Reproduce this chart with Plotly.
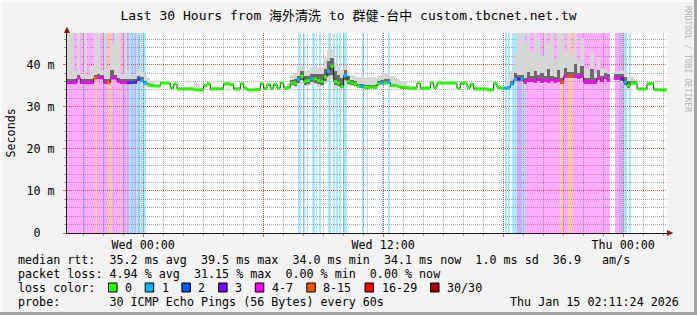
import plotly.graph_objects as go
import pandas as pd

# ---------------- data ----------------
start = pd.Timestamp("2026-01-13 20:11:24")
end = pd.Timestamp("2026-01-15 02:11:24")
step_min = 10
y_top = 47.5

median_ms = [
    35.7, 35.7, 35.7, 36.8, 35.8, 35.7,
    35.7, 35.7, 36.8, 36.9, 36.8, 35.7,
    35.7, 36.8, 36.8, 36.0, 35.7, 35.7,
    35.7, 35.7, 35.8, 36.5, 36.2, 35.6,
    35.2, 35.0, 34.9, 34.9, 35.6, 35.6,
    35.6, 34.6, 35.4, 34.2, 34.2, 34.2,
    34.2, 34.2, 34.0, 34.0, 34.0, 35.0,
    35.4, 34.2, 34.2, 34.2, 34.3, 35.4,
    35.4, 35.2, 34.2, 34.2, 35.4, 34.4,
    34.0, 34.0, 34.0, 34.1, 35.4, 34.3,
    35.3, 34.4, 35.3, 34.4, 35.6, 34.4,
    34.6, 35.6, 35.6, 36.4, 37.2, 36.0,
    36.2, 36.6, 36.6, 36.2, 36.0, 37.0,
    38.4, 39.6, 36.0, 35.6, 34.8, 37.4,
    36.0, 35.6, 35.4, 34.8, 34.8, 34.6,
    34.6, 34.7, 34.6, 35.4, 35.6, 35.6,
    35.8, 35.0, 35.0, 34.8, 34.6, 34.6,
    34.4, 34.4, 34.4, 35.6, 34.4, 34.4,
    34.4, 35.6, 34.6, 35.6, 35.6, 35.6,
    35.6, 35.6, 35.6, 34.3, 35.5, 35.6,
    34.6, 35.3, 34.2, 34.2, 34.2, 34.2,
    34.0, 34.0, 35.5, 34.6, 34.4, 34.4,
    34.5, 35.4, 36.4, 36.6, 36.6, 35.9,
    36.2, 36.3, 36.0, 36.5, 36.1, 36.2,
    36.0, 36.4, 36.0, 36.2, 35.9, 37.2,
    37.2, 37.3, 37.2, 37.0, 37.2, 35.9,
    35.9, 35.9, 35.9, 36.8, 36.2, 36.9,
    36.3, None, 36.8, 36.8, 36.7, 35.8,
    35.0, 35.6, 35.6, 34.2, 34.2, 34.2,
    35.4, 35.5, 34.1, 34.0, 34.0, 34.0,
]

# outer (light) smoke extent above / below the median, ms
smoke_up = [
    14, 14, 3, 12, 2, 14,
    1.5, 4, 14, 12, 2, 14,
    3, 8, 14, 14, 2, 14,
    3, 1.5, 2, 2.5, 2, 2,
    1.5, 1.0, 0.4, 0.4, 0.4, 0.4,
    0.4, 0.4, 0.4, 0.4, 0.4, 0.4,
    0.4, 0.4, 1.8, 1.5, 0.4, 0.4,
    0.4, 0.4, 0.4, 0.4, 0.4, 0.4,
    0.4, 0.4, 0.4, 0.4, 0.4, 0.4,
    0.4, 0.4, 0.4, 0.4, 0.8, 0.4,
    0.4, 0.4, 0.4, 0.4, 0.6, 0.6,
    1.0, 2.0, 2.5, 2.5, 2.5, 2.5,
    2.5, 2.5, 2.8, 3.0, 3.5, 4.5,
    5.0, 4.0, 4.5, 4.0, 4.0, 2.5,
    2.5, 2.0, 2.0, 2.2, 2.2, 2.3,
    2.4, 2.3, 2.2, 2.0, 2.0, 2.4,
    2.2, 2.2, 2.0, 1.8, 1.6, 1.2,
    0.8, 0.4, 0.4, 0.4, 0.4, 0.4,
    0.4, 0.4, 0.4, 0.4, 0.4, 0.4,
    0.4, 0.4, 0.4, 0.4, 0.4, 0.4,
    0.4, 0.4, 0.4, 0.4, 0.4, 0.4,
    0.4, 0.4, 0.4, 0.4, 0.4, 0.4,
    1.5, 3, 6, 12, 14, 9,
    14, 7, 14, 10, 6, 14,
    9, 14, 5, 12, 14, 6,
    14, 5, 12, 4, 9, 3,
    3, 7, 2, 5, 3, 2,
    2, None, 1.5, 1.5, 2, 2.5,
    2, 1.5, 1.0, 0.4, 0.4, 0.4,
    0.4, 0.4, 0.4, 0.4, 0.4, 0.4,
]
smoke_dn = [
    0.6, 0.6, 0.6, 0.6, 0.6, 0.6,
    0.6, 0.6, 0.6, 0.6, 0.6, 0.6,
    0.6, 0.6, 0.6, 0.6, 0.6, 0.6,
    0.6, 0.6, 0.6, 0.6, 0.6, 0.6,
    0.5, 0.4, 0.3, 0.3, 0.3, 0.3,
    0.3, 0.3, 0.3, 0.3, 0.3, 0.3,
    0.3, 0.3, 0.3, 0.3, 0.3, 0.3,
    0.3, 0.3, 0.3, 0.3, 0.3, 0.3,
    0.3, 0.3, 0.3, 0.3, 0.3, 0.3,
    0.3, 0.3, 0.3, 0.3, 0.3, 0.3,
    0.3, 0.3, 0.3, 0.3, 0.3, 0.3,
    0.5, 0.8, 1.0, 1.5, 1.8, 1.2,
    1.3, 1.5, 1.5, 1.5, 1.2, 1.5,
    2.0, 3.0, 1.5, 1.0, 0.6, 1.5,
    1.0, 0.8, 0.6, 0.4, 0.4, 0.4,
    0.4, 0.4, 0.4, 0.4, 0.4, 0.4,
    0.4, 0.4, 0.4, 0.4, 0.3, 0.3,
    0.3, 0.3, 0.3, 0.3, 0.3, 0.3,
    0.3, 0.3, 0.3, 0.3, 0.3, 0.3,
    0.3, 0.3, 0.3, 0.3, 0.3, 0.3,
    0.3, 0.3, 0.3, 0.3, 0.3, 0.3,
    0.3, 0.3, 0.3, 0.3, 0.3, 0.3,
    0.3, 0.6, 0.8, 0.6, 0.6, 0.6,
    0.6, 0.6, 0.6, 0.6, 0.6, 0.6,
    0.6, 0.6, 0.6, 0.6, 0.6, 0.6,
    0.6, 0.6, 0.6, 0.6, 0.6, 0.6,
    0.6, 0.6, 0.6, 0.6, 0.6, 0.6,
    0.6, None, 0.6, 0.6, 0.8, 1.0,
    1.0, 0.5, 0.4, 0.3, 0.3, 0.3,
    0.3, 0.3, 0.3, 0.3, 0.3, 0.3,
]
# dark core of the smoke above / below the median, ms
core_up = [
    0.8, 0.8, 0.8, 0.8, 0.8, 0.8,
    0.8, 0.8, 0.8, 0.8, 0.8, 0.8,
    0.8, 2.0, 0.8, 0.8, 0.8, 0.8,
    0.8, 0.8, 0.8, 0.8, 0.8, 0.6,
    0.4, 0.3, 0.2, 0.2, 0.2, 0.2,
    0.2, 0.2, 0.2, 0.2, 0.2, 0.2,
    0.2, 0.2, 0.2, 0.2, 0.2, 0.2,
    0.2, 0.2, 0.2, 0.2, 0.2, 0.2,
    0.2, 0.2, 0.2, 0.2, 0.2, 0.2,
    0.2, 0.2, 0.2, 0.2, 0.2, 0.2,
    0.2, 0.2, 0.2, 0.2, 0.2, 0.2,
    0.4, 0.8, 1.0, 1.0, 1.2, 1.2,
    1.0, 1.2, 1.2, 1.5, 1.8, 2.0,
    2.5, 2.0, 2.5, 2.0, 2.0, 1.2,
    1.2, 0.8, 0.6, 0.5, 0.5, 0.5,
    0.6, 0.5, 0.5, 0.6, 0.8, 1.0,
    0.8, 0.5, 0.5, 0.4, 0.3, 0.3,
    0.2, 0.2, 0.2, 0.2, 0.2, 0.2,
    0.2, 0.2, 0.2, 0.2, 0.2, 0.2,
    0.2, 0.2, 0.2, 0.2, 0.2, 0.2,
    0.2, 0.2, 0.2, 0.2, 0.2, 0.2,
    0.2, 0.2, 0.2, 0.2, 0.2, 0.2,
    0.4, 0.8, 1.5, 1.0, 1.0, 1.0,
    2.0, 1.0, 2.5, 1.0, 2.0, 1.0,
    3.0, 1.0, 1.0, 2.5, 1.0, 2.0,
    1.0, 1.0, 3.0, 1.0, 2.5, 1.0,
    1.0, 3.0, 1.0, 2.0, 1.0, 1.0,
    1.5, None, 1.0, 1.0, 1.0, 1.2,
    1.0, 0.6, 0.4, 0.2, 0.2, 0.2,
    0.2, 0.2, 0.2, 0.2, 0.2, 0.2,
]
core_dn = [
    0.3, 0.3, 0.3, 0.3, 0.3, 0.3,
    0.3, 0.3, 0.3, 0.3, 0.3, 0.3,
    0.3, 0.3, 0.3, 0.3, 0.3, 0.3,
    0.3, 0.3, 0.3, 0.3, 0.3, 0.3,
    0.2, 0.2, 0.2, 0.2, 0.2, 0.2,
    0.2, 0.2, 0.2, 0.2, 0.2, 0.2,
    0.2, 0.2, 0.2, 0.2, 0.2, 0.2,
    0.2, 0.2, 0.2, 0.2, 0.2, 0.2,
    0.2, 0.2, 0.2, 0.2, 0.2, 0.2,
    0.2, 0.2, 0.2, 0.2, 0.2, 0.2,
    0.2, 0.2, 0.2, 0.2, 0.2, 0.2,
    0.3, 0.5, 0.6, 0.8, 0.8, 0.8,
    0.8, 0.8, 0.9, 0.8, 0.8, 1.0,
    1.2, 2.0, 0.8, 0.6, 0.4, 1.0,
    0.6, 0.5, 0.4, 0.3, 0.3, 0.3,
    0.3, 0.3, 0.3, 0.3, 0.3, 0.3,
    0.3, 0.3, 0.3, 0.3, 0.3, 0.3,
    0.2, 0.2, 0.2, 0.2, 0.2, 0.2,
    0.2, 0.2, 0.2, 0.2, 0.2, 0.2,
    0.2, 0.2, 0.2, 0.2, 0.2, 0.2,
    0.2, 0.2, 0.2, 0.2, 0.2, 0.2,
    0.2, 0.2, 0.2, 0.2, 0.2, 0.2,
    0.2, 0.3, 0.4, 0.4, 0.4, 0.4,
    0.4, 0.4, 0.4, 0.4, 0.4, 0.4,
    0.4, 0.4, 0.4, 0.4, 0.4, 0.4,
    0.4, 0.4, 0.4, 0.4, 0.4, 0.4,
    0.4, 0.4, 0.4, 0.4, 0.4, 0.4,
    0.4, None, 0.4, 0.4, 0.5, 0.6,
    0.6, 0.3, 0.2, 0.2, 0.2, 0.2,
    0.2, 0.2, 0.2, 0.2, 0.2, 0.2,
]

# packet-loss periods: minutes from start, and loss-colour index
band_start_min = [0, 48, 54, 84, 90, 108, 114, 123, 135, 138, 141, 159, 162, 168, 174,
                  180, 186, 192, 198, 201, 207, 213, 219,
                  693, 708, 720, 735, 747, 756, 783, 798, 807, 816, 828, 885, 900, 945, 963,
                  1314, 1323, 1335, 1350, 1365, 1374, 1479, 1488, 1503, 1518,
                  1644, 1656, 1668, 1686]
band_end_min = [48, 54, 84, 90, 108, 114, 123, 135, 138, 141, 159, 162, 168, 174, 180,
                186, 192, 198, 201, 207, 213, 219, 237,
                702, 714, 723, 744, 750, 762, 792, 804, 813, 822, 840, 891, 903, 948, 969,
                1320, 1329, 1350, 1365, 1374, 1479, 1488, 1503, 1518, 1629,
                1656, 1668, 1680, 1692]
band_loss = [4, 3, 4, 5, 4, 3, 4, 5, 4, 3, 4, 5, 4, 3, 4,
             3, 1, 2, 1, 3, 1, 2, 1,
             1, 1, 1, 1, 1, 1, 1, 1, 1, 1, 1, 1, 1, 1, 1,
             1, 1, 1, 3, 1, 4, 5, 4, 5, 4,
             4, 3, 1, 1]

loss_labels = ["0", "1", "2", "3", "4-7", "8-15", "16-29", "30/30"]
loss_colors = ["#26ff00", "#00b8ff", "#0059ff", "#7e00ff", "#ff00ff", "#ff5500", "#ff0000", "#a10000"]

x_tick_vals = ["2026-01-14 00:00", "2026-01-14 06:00", "2026-01-14 12:00",
               "2026-01-14 18:00", "2026-01-15 00:00"]
x_tick_text = ["Wed 00:00", "", "Wed 12:00", "", "Thu 00:00"]
y_tick_vals = [0, 10, 20, 30, 40]
y_tick_text = ["0\u00a0\u00a0", "10 m", "20 m", "30 m", "40 m"]

title_text = "Last 30 Hours from 海外清洗 to 群健-台中 custom.tbcnet.net.tw"
legend_rows = [
    "median rtt:  35.2 ms avg  39.5 ms max  34.0 ms min  34.1 ms now  1.0 ms sd  36.9   am/s",
    "packet loss: 4.94 % avg  31.15 % max  0.00 % min  0.00 % now",
    "loss color:",
    "probe:       30 ICMP Echo Pings (56 Bytes) every 60s",
]
stamp_text = "Thu Jan 15 02:11:24 2026"

# ---------------- helpers ----------------
W, H = 697, 315
L, R, T, B = 67, 667, 33, 233
MONO = "DejaVu Sans Mono, Noto Sans CJK TC"


def px(x):
    return (x - L) / (R - L)


def py(y):
    return (B - y) / (B - T)


def rgba(hexc, a):
    h = hexc.lstrip("#")
    return "rgba(%d,%d,%d,%.3f)" % (int(h[0:2], 16), int(h[2:4], 16), int(h[4:6], 16), a)


def nb(s):
    return s.replace(" ", "\u00a0")


N = len(median_ms)
t_edges = [start + pd.Timedelta(minutes=step_min * i) for i in range(N + 1)]
t_mid = [start + pd.Timedelta(minutes=step_min * i + step_min / 2) for i in range(N)]
bar_w = step_min * 60 * 1000


def loss_at(minute):
    for s, e, c in zip(band_start_min, band_end_min, band_loss):
        if s <= minute < e:
            return c
    return 0


fig = go.Figure()

# smoke
ox, ob, oh = [], [], []
cx, cb, ch = [], [], []
for i in range(N):
    m = median_ms[i]
    if m is None:
        continue
    ox.append(t_mid[i]); ob.append(m - smoke_dn[i]); oh.append(smoke_up[i] + smoke_dn[i])
    cx.append(t_mid[i]); cb.append(m - core_dn[i]); ch.append(core_up[i] + core_dn[i])

fig.add_trace(go.Bar(x=ox, y=oh, base=ob, width=bar_w, marker=dict(color="#d6d6d6", line=dict(width=0)),
                     showlegend=False, hoverinfo="skip"))
fig.add_trace(go.Bar(x=cx, y=ch, base=cb, width=bar_w, marker=dict(color="#6a6a6a", line=dict(width=0)),
                     showlegend=False, hoverinfo="skip"))

# thin dark median connector (step)
fig.add_trace(go.Scatter(x=t_edges, y=median_ms + [median_ms[-1]], mode="lines",
                         line=dict(color="#202020", width=1, shape="hv"),
                         connectgaps=False, showlegend=False, hoverinfo="skip"))

# thick coloured median segments, coloured by loss
for c, col in enumerate(loss_colors):
    xs, ys = [], []
    for i in range(N):
        m = median_ms[i]
        if m is None:
            continue
        if loss_at(step_min * i + step_min / 2) != c:
            continue
        xs += [t_edges[i], t_edges[i + 1], None]
        ys += [m, m, None]
    if xs:
        fig.add_trace(go.Scatter(x=xs, y=ys, mode="lines", line=dict(color=col, width=3),
                                 showlegend=False, hoverinfo="skip"))

shapes = []
# loss background bands
for s, e, c in zip(band_start_min, band_end_min, band_loss):
    shapes.append(dict(type="rect", xref="x", yref="y", layer="below",
                       x0=start + pd.Timedelta(minutes=s), x1=start + pd.Timedelta(minutes=e),
                       y0=0, y1=y_top, fillcolor=rgba(loss_colors[c], 0.33), line=dict(width=0)))

# frame (3D look)
shapes += [
    dict(type="rect", xref="paper", yref="paper", x0=px(0), x1=px(W), y0=py(0), y1=py(2),
         fillcolor="#fcfcfc", line=dict(width=0), layer="above"),
    dict(type="rect", xref="paper", yref="paper", x0=px(0), x1=px(2), y0=py(0), y1=py(H),
         fillcolor="#fcfcfc", line=dict(width=0), layer="above"),
    dict(type="rect", xref="paper", yref="paper", x0=px(694), x1=px(W), y0=py(0), y1=py(H),
         fillcolor="#a4a4a4", line=dict(width=0), layer="above"),
    dict(type="rect", xref="paper", yref="paper", x0=px(0), x1=px(W), y0=py(312), y1=py(H),
         fillcolor="#a4a4a4", line=dict(width=0), layer="above"),
]
# axis arrows
shapes.append(dict(type="path", xref="paper", yref="paper",
                   path="M %f %f L %f %f L %f %f Z" % (px(64), py(33), px(70), py(33), px(67), py(26.5)),
                   fillcolor="#8b1a1a", line=dict(width=0), layer="above"))
shapes.append(dict(type="path", xref="paper", yref="paper",
                   path="M %f %f L %f %f L %f %f Z" % (px(667), py(230), px(667), py(236), px(673.5), py(233)),
                   fillcolor="#8b1a1a", line=dict(width=0), layer="above"))

annotations = []
FS = 11.7
row_y = [259.5, 273.5, 287.5, 301.5]
for txt, yy in zip(legend_rows, row_y):
    annotations.append(dict(xref="paper", yref="paper", x=px(16), y=py(yy), xanchor="left", yanchor="middle",
                            text=nb(txt), showarrow=False, font=dict(family=MONO, size=FS, color="#000")))
annotations.append(dict(xref="paper", yref="paper", x=px(681), y=py(row_y[3]), xanchor="right",
                        yanchor="middle", text=nb(stamp_text), showarrow=False,
                        font=dict(family=MONO, size=FS, color="#000")))

# loss colour legend swatches
box_x = [108.5, 145.2, 181.9, 218.6, 255.3, 306.8, 365.0, 430.5]
for bx, lab, col in zip(box_x, loss_labels, loss_colors):
    shapes.append(dict(type="rect", xref="paper", yref="paper", x0=px(bx), x1=px(bx + 8.5),
                       y0=py(row_y[2] - 4.5), y1=py(row_y[2] + 4.5), fillcolor=col,
                       line=dict(color="#000", width=1), layer="above"))
    annotations.append(dict(xref="paper", yref="paper", x=px(bx + 14.5), y=py(row_y[2]), xanchor="left",
                            yanchor="middle", text=nb(lab), showarrow=False,
                            font=dict(family=MONO, size=FS, color="#000")))

# y axis title
annotations.append(dict(xref="paper", yref="paper", x=px(10.5), y=0.5, xanchor="center", yanchor="middle",
                        text="Seconds", textangle=-90, showarrow=False,
                        font=dict(family=MONO, size=FS, color="#000")))
# watermark
annotations.append(dict(xref="paper", yref="paper", x=px(688), y=py(59), xanchor="center", yanchor="middle",
                        text=nb("RRDTOOL / TOBI OETIKER"), textangle=90, showarrow=False,
                        font=dict(family=MONO, size=8, color="#b4b4b4")))

fig.update_layout(
    width=W, height=H,
    margin=dict(l=L, r=W - R, t=T, b=H - B, pad=0),
    paper_bgcolor="#f3f3f3", plot_bgcolor="#ffffff",
    barmode="overlay", bargap=0,
    showlegend=False,
    title=dict(text=title_text, x=0.5, xref="container", xanchor="center",
               y=1 - 15.5 / H, yref="container", yanchor="middle",
               font=dict(family=MONO, size=13, color="#000")),
    shapes=shapes, annotations=annotations,
)

MAJ = "rgba(225,70,70,0.8)"
MIN = "rgba(110,110,110,0.6)"
fig.update_xaxes(
    type="date", range=[start, end], tickmode="array", tickvals=x_tick_vals, ticktext=x_tick_text,
    showgrid=True, gridcolor=MAJ, griddash="1px,1px", gridwidth=1,
    showline=True, linecolor="#1a1a1a", linewidth=1,
    ticks="outside", ticklen=3, tickcolor="#e06060", tickwidth=1,
    ticklabelstandoff=-2,
    tickfont=dict(family=MONO, size=FS, color="#000"),
    minor=dict(dtick=3600000, tick0="2026-01-14 00:00", showgrid=True,
               gridcolor=MIN, griddash="1px,1px", gridwidth=1,
               ticks="outside", ticklen=2, tickcolor="#999"),
    zeroline=False, fixedrange=True,
)
fig.update_yaxes(
    range=[0, y_top], tickmode="array", tickvals=y_tick_vals, ticktext=y_tick_text,
    showgrid=True, gridcolor=MAJ, griddash="1px,1px", gridwidth=1,
    showline=True, linecolor="#1a1a1a", linewidth=1,
    ticks="outside", ticklen=3, tickcolor="#e06060",
    ticklabelstandoff=6,
    tickfont=dict(family=MONO, size=FS, color="#000"),
    minor=dict(dtick=2, showgrid=True, gridcolor=MIN, griddash="1px,1px",
               gridwidth=1, ticks="outside", ticklen=2, tickcolor="#999"),
    zeroline=False, fixedrange=True,
)

fig.write_html("out.html")
